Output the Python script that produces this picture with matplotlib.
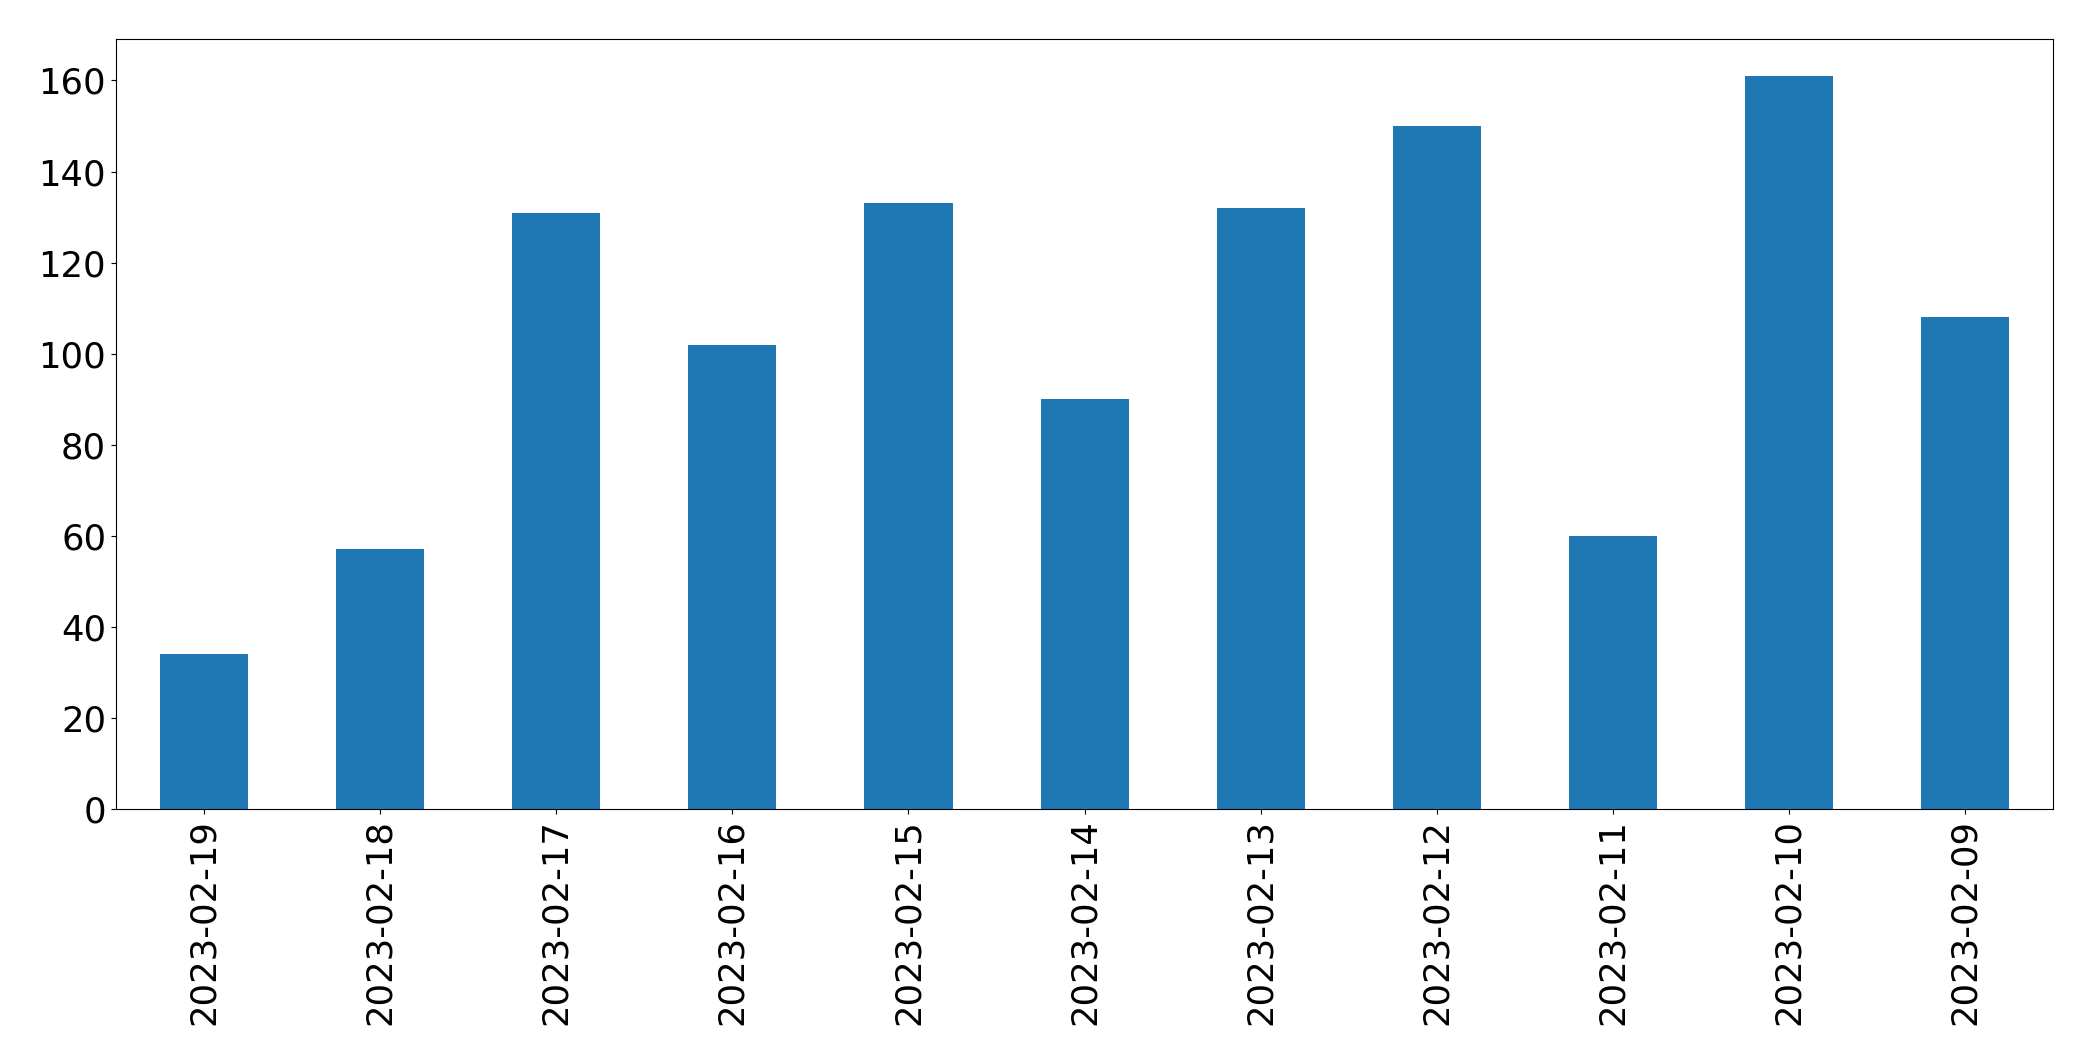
import matplotlib.pyplot as plt
import numpy as np

dates = ["2023-02-19", "2023-02-18", "2023-02-17", "2023-02-16", "2023-02-15",
         "2023-02-14", "2023-02-13", "2023-02-12", "2023-02-11", "2023-02-10",
         "2023-02-09"]
counts = [34, 57, 131, 102, 133, 90, 132, 150, 60, 161, 108]

fig, ax = plt.subplots(figsize=(20.93, 10.61), dpi=100)
x = np.arange(len(dates))
ax.bar(x, counts, width=0.5, color="#1f77b4")
ax.set_xlim(-0.5, len(dates) - 0.5)
ax.set_xticks(x)
ax.set_xticklabels(dates, rotation=90)
ax.tick_params(labelsize=25.5)
fig.subplots_adjust(left=0.0554, right=0.981, top=0.963, bottom=0.2375)
fig.savefig("out.png")
